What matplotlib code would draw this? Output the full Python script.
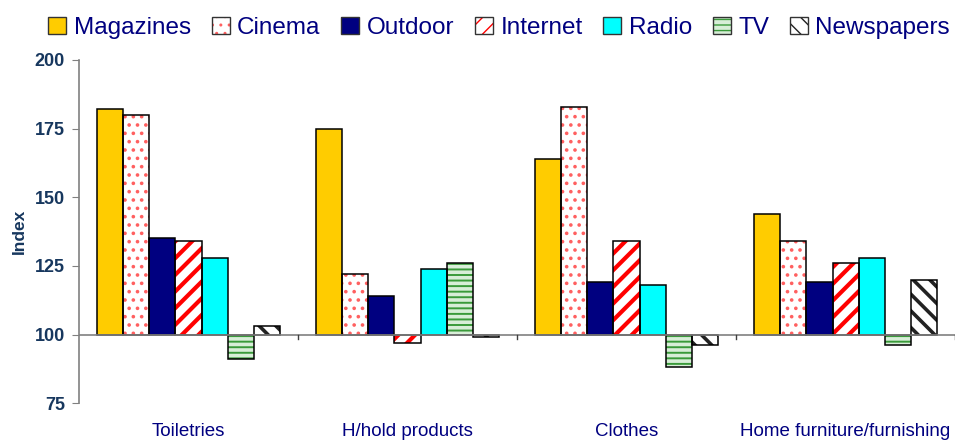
import matplotlib
matplotlib.use("Agg")
import matplotlib.pyplot as plt
import numpy as np

plt.rcParams.update({"font.family": ["Liberation Sans", "DejaVu Sans"]})

CATS = ["Toiletries", "H/hold products", "Clothes", "Home furniture/furnishing"]
MEDIA = ["Magazines", "Cinema", "Outdoor", "Internet", "Radio", "TV", "Newspapers"]

magazines = [182, 175, 164, 144]
cinema = [180, 122, 183, 134]
outdoor = [135, 114, 119, 119]
internet = [134, 97, 134, 126]
radio = [128, 124, 118, 128]
tv = [91, 126, 88, 96]
newspapers = [103, 99, 96, 120]

YTICKS = [75, 100, 125, 150, 175, 200]
BASE = 100

NAVY = "#000080"
LABEL = "#17375E"

# face, hatch colour, hatch pattern, hatch width
STYLE = {
    "Magazines": ("#FFCC00", None, None, 1.0),
    "Cinema": ("white", "#FF6060", "..", 1.4),
    "Outdoor": ("#000080", None, None, 1.0),
    "Internet": ("white", "#FF0000", "//", 3.0),
    "Radio": ("#00FFFF", None, None, 1.0),
    "TV": ("#D8EED8", "#3A9A3A", "---", 1.4),
    "Newspapers": ("white", "#222222", "\\\\", 2.6),
}

series = [magazines, cinema, outdoor, internet, radio, tv, newspapers]

fig = plt.figure(figsize=(9.56, 4.44), dpi=100)
ax = fig.add_axes([0.0826, 0.092, 0.9164, 0.773])

x = np.arange(len(CATS))
w = 0.119
offsets = (np.arange(len(MEDIA)) - 3) * w


def draw_bar(xpos, vals, name, axis):
    face, hcol, hatch, hlw = STYLE[name]
    heights = np.array(vals) - BASE
    if hatch:
        with plt.rc_context({"hatch.linewidth": hlw}):
            axis.bar(xpos, heights, w, bottom=BASE, color=face, edgecolor=hcol,
                     hatch=hatch, linewidth=0, zorder=2)
    else:
        axis.bar(xpos, heights, w, bottom=BASE, color=face, linewidth=0, zorder=2)
    axis.bar(xpos, heights, w, bottom=BASE, fill=False, edgecolor="black",
             linewidth=1.1, zorder=3)


for i, (name, vals) in enumerate(zip(MEDIA, series)):
    draw_bar(x + offsets[i], vals, name, ax)

ax.set_xlim(-0.5, 3.5)
ax.set_ylim(75, 200)
ax.axhline(BASE, color="#808080", lw=1.2, zorder=4)
# category separators hanging below the baseline
for b in np.arange(0.5, 4.0, 1.0):
    ax.plot([b, b], [BASE, BASE - 1.5], color="#404040", lw=1, zorder=4)

ax.set_yticks(YTICKS)
ax.tick_params(axis="y", direction="out", length=5, color="#808080",
               labelsize=13, labelcolor=LABEL, pad=5)
for t in ax.get_yticklabels():
    t.set_fontweight("bold")
ax.set_xticks(x)
ax.set_xticklabels(CATS, fontsize=13.5, color=NAVY)
ax.tick_params(axis="x", length=0, pad=14)
ax.set_ylabel("Index", fontsize=12.5, fontweight="bold", color=LABEL, labelpad=6)

for s in ["top", "right", "bottom"]:
    ax.spines[s].set_visible(False)
ax.spines["left"].set_color("#808080")
ax.spines["left"].set_linewidth(1.2)

# legend handles: filled/hatched swatch overlaid with a dark outline
handles = []
for name in MEDIA:
    face, hcol, hatch, hlw = STYLE[name]
    if hatch:
        with plt.rc_context({"hatch.linewidth": hlw}):
            h = plt.Rectangle((0, 0), 1, 1, facecolor=face, edgecolor=hcol, hatch=hatch, lw=0)
    else:
        h = plt.Rectangle((0, 0), 1, 1, facecolor=face, lw=0)
    outline = plt.Rectangle((0, 0), 1, 1, fill=False, edgecolor="#333333", lw=1)
    handles.append((h, outline))

leg = fig.legend(handles, MEDIA, loc="upper center", bbox_to_anchor=(0.522, 1.012),
                 ncol=7, frameon=False, fontsize=17.5, handlelength=0.75,
                 handleheight=0.75, handletextpad=0.3, columnspacing=0.85)
for t in leg.get_texts():
    t.set_color(NAVY)

fig.savefig("out.png", dpi=100)
